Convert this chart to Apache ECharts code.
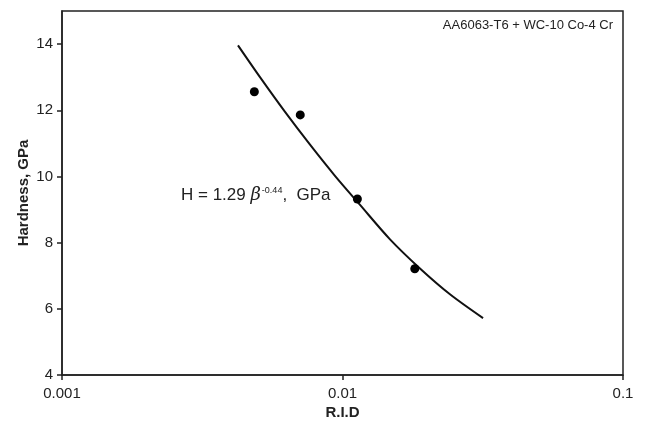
<!DOCTYPE html>
<html>
<head>
<meta charset="utf-8">
<script src="https://cdn.jsdelivr.net/npm/echarts@6/dist/echarts.min.js"></script>
<style>
  html, body { margin: 0; padding: 0; background: #fff; }
  #chart { width: 645px; height: 422px; }
</style>
</head>
<body>
<div id="chart"></div>
<script>
// 实测点 (R.I.D, 硬度 GPa)
var ridPoints = [0.00485, 0.00707, 0.0113, 0.0181];
var hardPoints = [12.56, 11.86, 9.32, 7.21];

// 拟合曲线，从图上读出的点
var ridCurve = [0.00424, 0.00508, 0.00624, 0.00766, 0.00940, 0.01155, 0.01477, 0.01889, 0.02416, 0.0317];
var hardCurve = [13.96, 13.00, 11.95, 10.96, 10.02, 9.14, 8.10, 7.22, 6.44, 5.72];

var yTicks = [4, 6, 8, 10, 12, 14];

var sampleLabel = 'AA6063-T6 + WC-10 Co-4 Cr';
var textColor = '#222';
var font = 'Liberation Sans, Arial, sans-serif';

var chart = echarts.init(document.getElementById('chart'));

function pairs(xs, ys) {
    return xs.map(function (x, i) { return [x, ys[i]]; });
}

chart.setOption({
    animation: false,
    grid: {
        left: 62, right: 22, top: 11, bottom: 47,
        containLabel: false,
        outerBoundsMode: 'none',
        show: true, borderColor: '#222', borderWidth: 1.5
    },
    xAxis: {
        type: 'log',
        logBase: 10,
        min: 0.001,
        max: 0.1,
        name: 'R.I.D',
        nameLocation: 'middle',
        nameGap: 30,
        nameMoveOverlap: false,
        nameTextStyle: { fontFamily: font, fontSize: 15, fontWeight: 'bold', color: textColor },
        axisLine: { lineStyle: { color: '#222', width: 1.5 } },
        axisTick: { show: true, inside: false, length: 5, lineStyle: { color: '#222', width: 1.5 } },
        minorTick: { show: false },
        splitLine: { show: false },
        axisLabel: {
            fontFamily: font, fontSize: 15, color: textColor, margin: 11,
            formatter: function (v) { return String(+v.toPrecision(3)); }
        }
    },
    yAxis: {
        type: 'value',
        min: 4,
        max: 15,
        name: 'Hardness, GPa',
        nameLocation: 'middle',
        nameGap: 31,
        nameMoveOverlap: false,
        nameTextStyle: { fontFamily: font, fontSize: 15, fontWeight: 'bold', color: textColor },
        axisLine: { show: true, lineStyle: { color: '#222', width: 1.5 } },
        axisTick: { show: true, length: 5, customValues: yTicks, lineStyle: { color: '#222', width: 1.5 } },
        splitLine: { show: false },
        axisLabel: {
            fontFamily: font, fontSize: 15, color: textColor, margin: 9,
            customValues: yTicks
        }
    },
    series: [
        {
            type: 'line',
            data: pairs(ridCurve, hardCurve),
            smooth: 0.3,
            showSymbol: false,
            lineStyle: { color: '#111', width: 2 },
            z: 2
        },
        {
            type: 'scatter',
            data: pairs(ridPoints, hardPoints),
            symbolSize: 9,
            itemStyle: { color: '#000', opacity: 1 },
            z: 3
        }
    ],
    graphic: [
        {
            type: 'text',
            right: 32,
            top: 19,
            style: {
                text: sampleLabel,
                font: '13px ' + font,
                fill: textColor
            }
        },
        {
            type: 'text',
            left: 181,
            top: 186,
            style: {
                text: '{n|H = 1.29 }{b|β}{s|-0.44}{n|,  GPa}',
                rich: {
                    n: { font: '17px ' + font, fill: textColor },
                    b: { font: 'italic 18px DejaVu Serif, serif', fill: textColor },
                    s: { font: '9px ' + font, fill: textColor, verticalAlign: 'top', padding: [0, 0, 9, 1] }
                }
            }
        }
    ]
});
</script>
</body>
</html>
